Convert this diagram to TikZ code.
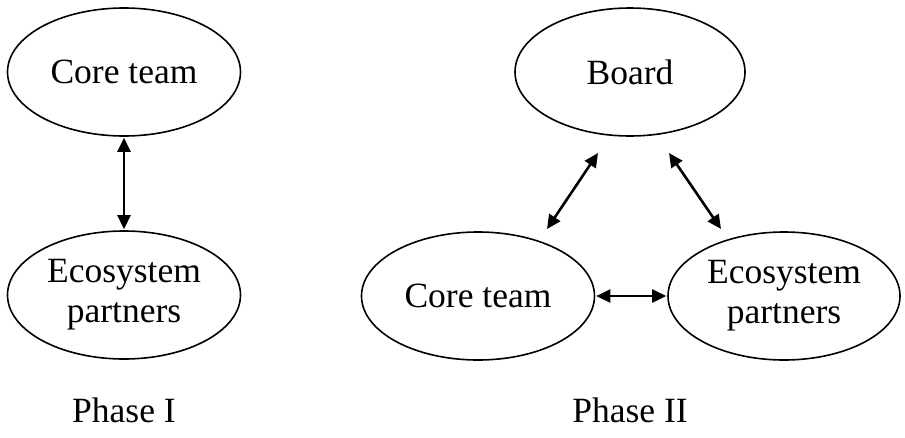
\documentclass[tikz,border=0pt]{standalone}
\usepackage{fontspec}
\setmainfont{Liberation Serif}
\usetikzlibrary{shapes.geometric,arrows.meta}
\begin{document}
\begin{tikzpicture}[x=1pt,y=-1pt,
  oval/.style={draw,line width=1.6pt,ellipse,minimum width=#1,minimum height=128pt,inner sep=0pt,align=center,font=\fontsize{35.5}{40}\selectfont},
  oval/.default=233pt,
  link/.style={line width=2.6pt,{Triangle[length=14pt,width=13pt]}-{Triangle[length=14pt,width=13pt]}},
  lbl/.style={font=\fontsize{35.5}{40}\selectfont}]
\useasboundingbox (0,0) rectangle (905,437);
\node[oval] (ct1) at (124,72) {Core team};
\node[oval] (ep1) at (124,295) {Ecosystem\\partners};
\node[oval=230pt] (bd) at (630,72) {Board};
\node[oval] (ct2) at (478,296) {Core team};
\node[oval=232pt] (ep2) at (784,296) {Ecosystem\\partners};
\coordinate (a1) at (598,153);
\coordinate (a2) at (547,229);
\coordinate (b1) at (669,153);
\coordinate (b2) at (721,229);
\draw[link,shorten <=1pt,shorten >=1pt] (ct1) -- (ep1);
\draw[link,shorten <=1pt,shorten >=1pt] (ct2) -- (ep2);
\draw[link] (a1) -- (a2);
\draw[link] (b1) -- (b2);
\node[lbl] (p1) at (124,410) {Phase I};
\node[lbl] (p2) at (630,410) {Phase II};
\end{tikzpicture}
\end{document}
